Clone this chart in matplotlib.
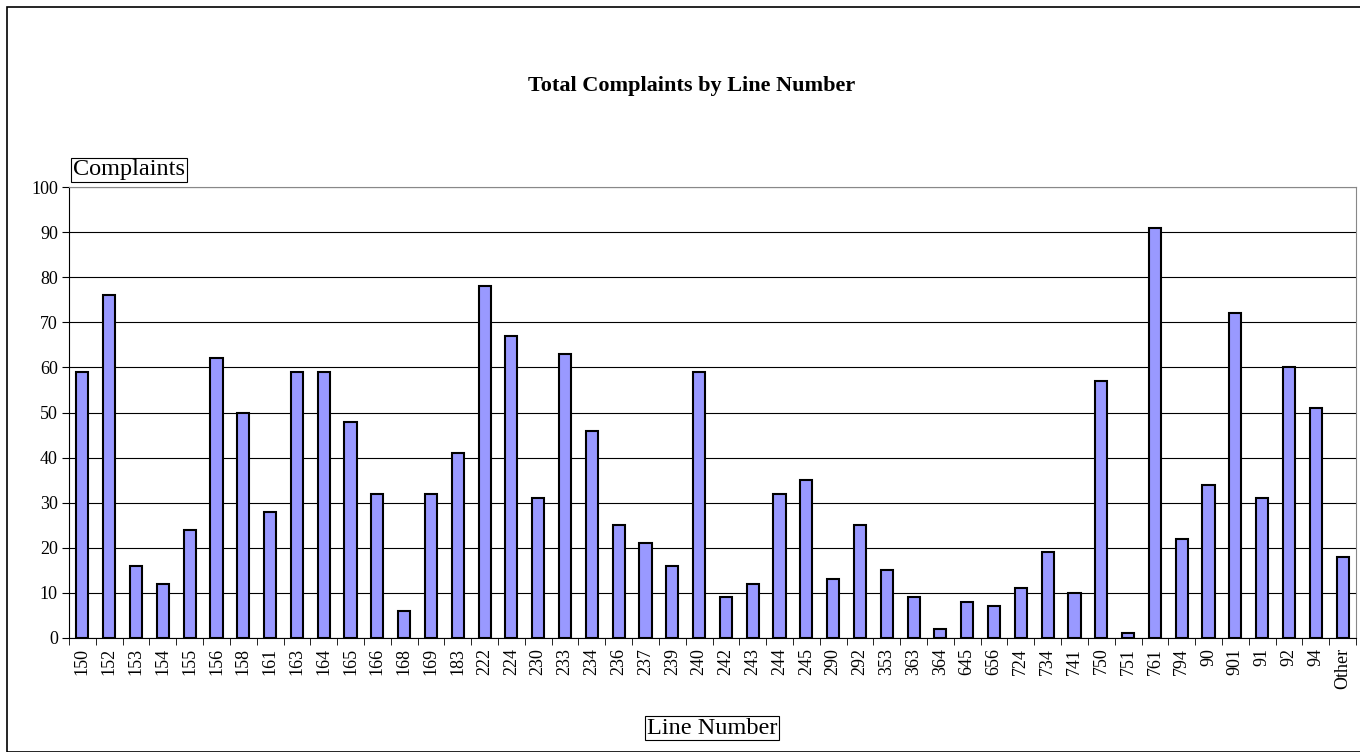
import matplotlib
matplotlib.use("Agg")
from matplotlib import pyplot as plt
from matplotlib.patches import Rectangle

# ============ data ====================
LINES = ['150', '152', '153', '154', '155', '156', '158', '161', '163', '164',
         '165', '166', '168', '169', '183', '222', '224', '230', '233', '234',
         '236', '237', '239', '240', '242', '243', '244', '245', '290', '292',
         '353', '363', '364', '645', '656', '724', '734', '741', '750', '751',
         '761', '794', '90', '901', '91', '92', '94', 'Other']
COMPLAINTS = [59, 76, 16, 12, 24, 62, 50, 28, 59, 59,
              48, 32, 6, 32, 41, 78, 67, 31, 63, 46,
              25, 21, 16, 59, 9, 12, 32, 35, 13, 25,
              15, 9, 2, 8, 7, 11, 19, 10, 57, 1,
              91, 22, 34, 72, 31, 60, 51, 18]
Y_TICKS = list(range(0, 101, 10))
# ======================================

plt.rcParams['font.family'] = ['Liberation Serif', 'DejaVu Serif']

fig = plt.figure(figsize=(13.6, 7.52), dpi=100)
# outer chart border
fig.patches.append(Rectangle((7 / 1360, 0), 1.0, 1 - 7 / 752, transform=fig.transFigure,
                             fill=False, edgecolor='black', linewidth=1.2, zorder=0))

ax = fig.add_axes([69 / 1360, 1 - 638 / 752, (1356 - 69) / 1360, (638 - 187) / 752])

x = range(len(LINES))
ax.bar(x, COMPLAINTS, width=0.45, color='#9999FF', edgecolor='black', linewidth=1.5, zorder=3)

ax.set_xlim(-0.5, len(LINES) - 0.5)
ax.set_ylim(0, 100)
ax.set_yticks(Y_TICKS)
ax.set_yticklabels([str(v) for v in Y_TICKS], fontsize=13)
ax.yaxis.grid(True, color='black', linewidth=0.8, zorder=0)

ax.set_xticks(list(x))
ax.set_xticklabels(LINES, rotation=90, fontsize=13)
ax.tick_params(axis='x', length=0, pad=7)
ax.set_xticks([i - 0.5 for i in range(len(LINES) + 1)], minor=True)
ax.tick_params(axis='x', which='minor', length=5, direction='out', color='black')
ax.tick_params(axis='y', length=5, direction='out', color='black', pad=3)

ax.spines['left'].set_color('black')
ax.spines['bottom'].set_color('black')
ax.spines['top'].set_color('#888888')
ax.spines['right'].set_color('#888888')

fig.text(692 / 1360, 1 - 86 / 752, 'Total Complaints by Line Number', ha='center', va='center',
         fontsize=16, fontweight='bold')

box = dict(boxstyle='square,pad=0.08', facecolor='white', edgecolor='black', linewidth=0.8)
fig.text(129 / 1360, 1 - 170 / 752, 'Complaints', ha='center', va='center', fontsize=17.5, bbox=box)
fig.text(712 / 1360, 1 - 728 / 752, 'Line Number', ha='center', va='center', fontsize=17.5, bbox=box)

plt.savefig('out.png', dpi=100)
